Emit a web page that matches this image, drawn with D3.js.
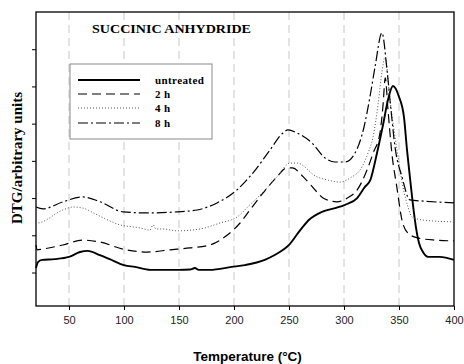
<!DOCTYPE html>
<html><head><meta charset="utf-8">
<script src="https://cdn.jsdelivr.net/npm/d3@7"></script>
<style>body{margin:0;background:#fff}svg{display:block}</style>
</head><body><svg id="c" width="464" height="364"></svg>
<script>
// Data (temperature in °C, DTG in arbitrary units)
const untreatedT = [20,21.8,25.5,37,50,60,67,78,87,100,110,124,137,150,160,164.5,168,178,198,210,228,237,250,259,268,280,292,301,312,319,324,330,335.5,340,344.5,350,354.5,357.3,360,362.7,365.5,368.2,371.8,376.4,387,400];
const untreatedV = [1.12,1.28,1.34,1.36,1.42,1.55,1.58,1.47,1.36,1.20,1.15,1.07,1.07,1.07,1.08,1.12,1.07,1.07,1.15,1.20,1.34,1.47,1.74,2.09,2.41,2.63,2.73,2.82,3.00,3.30,3.49,4.21,4.97,5.64,6.01,5.72,5.18,4.29,3.54,2.82,2.20,1.79,1.55,1.42,1.42,1.34];

const h2T = [20,21,26,44.5,62.7,78,99,121,142,160,178,194,205.5,214.5,226.5,239,248,253,263,275.5,281,293.5,303,312,321,326.5,332.7,335.5,337.5,340,343.5,348,352.7,358,367,383,400];
const h2V = [1.74,1.61,1.63,1.74,1.87,1.82,1.63,1.55,1.61,1.66,1.74,2.01,2.33,2.68,3.14,3.57,3.81,3.81,3.57,3.16,3.00,2.90,3.00,3.22,3.76,4.21,4.75,5.50,6.23,5.37,4.21,3.30,2.41,2.06,1.93,1.87,1.85];

const h4T = [20,20.9,44.5,53.6,62.7,75.5,96.4,114.5,123.6,126.4,129,135.5,148.2,169.1,187.3,202.7,214.5,226.4,239.1,250.9,257.3,275.5,284.5,296.4,305.5,316.4,321.8,326.4,330.9,334.5,337.3,341.8,345.5,349.1,353.6,358.2,361.8,371.8,400];
const h4V = [2.36,2.33,2.68,2.76,2.73,2.55,2.28,2.20,2.14,2.28,2.17,2.17,2.12,2.17,2.33,2.49,2.82,3.16,3.57,3.94,3.94,3.57,3.49,3.43,3.54,3.84,4.21,4.64,5.50,6.39,6.79,5.64,4.83,4.11,3.30,2.76,2.49,2.41,2.36];

const h8T = [20,26.4,44.5,62.7,78.2,99.1,120.9,148.2,166.4,184.5,202.7,217.3,232.7,244.5,249.1,257.3,270.9,282.7,291.8,300.9,310,318.2,323.6,328.2,334.5,339.1,342.7,346.4,352.7,360,371.8,400];
const h8V = [2.76,2.71,2.90,3.03,2.90,2.63,2.60,2.63,2.68,2.87,3.22,3.68,4.29,4.75,4.83,4.75,4.48,4.08,3.97,3.97,4.21,4.91,5.72,6.52,7.44,6.44,5.37,4.37,3.57,2.95,2.92,2.87];

const seriesNames = ["untreated","2 h","4 h","8 h"];
const xTicks = [50,100,150,200,250,300,350,400];
const gridTicks = [50,100,150,200,250,300,350];
const yTicks = [1,2,3,4,5,6,7];

const styles = [
  {w:1.9, dash:null, color:"#000"},
  {w:1.2, dash:"9,5", color:"#000"},
  {w:1.0, dash:"1,2", color:"#555"},
  {w:1.2, dash:"10,3,2,3", color:"#000"}
];
const series = [
  {T:untreatedT,V:untreatedV},{T:h2T,V:h2V},{T:h4T,V:h4V},{T:h8T,V:h8V}
].map((s,i)=>({name:seriesNames[i], pts:s.T.map((t,j)=>[t,s.V[j]]), st:styles[i]}));

const svg = d3.select("#c");
const L=36, R=454, T=12, B=306;
const x = d3.scaleLinear().domain([20,400]).range([L,R]);
const y = d3.scaleLinear().domain([0.1,8]).range([B,T]);

// grid
svg.append("g").selectAll("line").data(gridTicks).join("line")
  .attr("x1",d=>x(d)).attr("x2",d=>x(d)).attr("y1",T).attr("y2",B)
  .attr("stroke","#c8c8c8").attr("stroke-width",1).attr("stroke-dasharray","8,5");

// axes
const xAxis = d3.axisBottom(x).tickValues(xTicks).tickSize(4).tickSizeOuter(0).tickPadding(6);
const gx = svg.append("g").attr("transform",`translate(0,${B})`).call(xAxis);
gx.select(".domain").remove();
gx.selectAll("line").attr("stroke","#000");
gx.selectAll("text").attr("font-family","'Liberation Sans',Arial,sans-serif").attr("font-size","11px").attr("fill","#222");

const yAxis = d3.axisLeft(y).tickValues(yTicks).tickSize(4).tickFormat("").tickSizeOuter(0);
const gy = svg.append("g").attr("transform",`translate(${L},0)`).call(yAxis);
gy.select(".domain").remove();
gy.selectAll("line").attr("stroke","#000");

// frame
svg.append("rect").attr("x",L).attr("y",T).attr("width",R-L).attr("height",B-T)
  .attr("fill","none").attr("stroke","#000").attr("stroke-width",1.3);

// lines
const line = d3.line().x(d=>x(d[0])).y(d=>y(d[1])).curve(d3.curveMonotoneX);
svg.append("g").selectAll("path").data(series).join("path")
  .attr("d",d=>line(d.pts)).attr("fill","none")
  .attr("stroke",d=>d.st.color).attr("stroke-width",d=>d.st.w)
  .attr("stroke-dasharray",d=>d.st.dash).attr("stroke-linejoin","round");

// title
svg.append("text").attr("x",92).attr("y",33).text("SUCCINIC ANHYDRIDE")
  .attr("font-family","'Liberation Serif','Times New Roman',serif").attr("font-weight","bold")
  .attr("font-size","13px").attr("textLength",159).attr("lengthAdjust","spacingAndGlyphs");

// legend
const lg = svg.append("g");
lg.append("rect").attr("x",70).attr("y",64).attr("width",142).attr("height",75)
  .attr("fill","#fff").attr("stroke","#8a8a8a").attr("stroke-width",1);
const rowY = [80,94,108,123];
series.forEach((s,i)=>{
  lg.append("line").attr("x1",78).attr("x2",140).attr("y1",rowY[i]).attr("y2",rowY[i])
    .attr("stroke",s.st.color).attr("stroke-width",s.st.w).attr("stroke-dasharray",s.st.dash);
  lg.append("text").attr("x",155).attr("y",rowY[i]+4).text(s.name)
    .attr("font-family","'Liberation Serif','Times New Roman',serif").attr("font-weight","bold")
    .attr("font-size","11px").attr("letter-spacing","0.4px");
});

// axis titles
svg.append("text").attr("x",247.5).attr("y",361).attr("text-anchor","middle")
  .text("Temperature (°C)").attr("font-family","'Liberation Sans',Arial,sans-serif")
  .attr("font-weight","bold").attr("font-size","13.5px");
svg.append("text").attr("transform","translate(22,158) rotate(-90)").attr("text-anchor","middle")
  .text("DTG/arbitrary units").attr("font-family","'Liberation Serif','Times New Roman',serif")
  .attr("font-weight","bold").attr("font-size","15px");
</script></body></html>
